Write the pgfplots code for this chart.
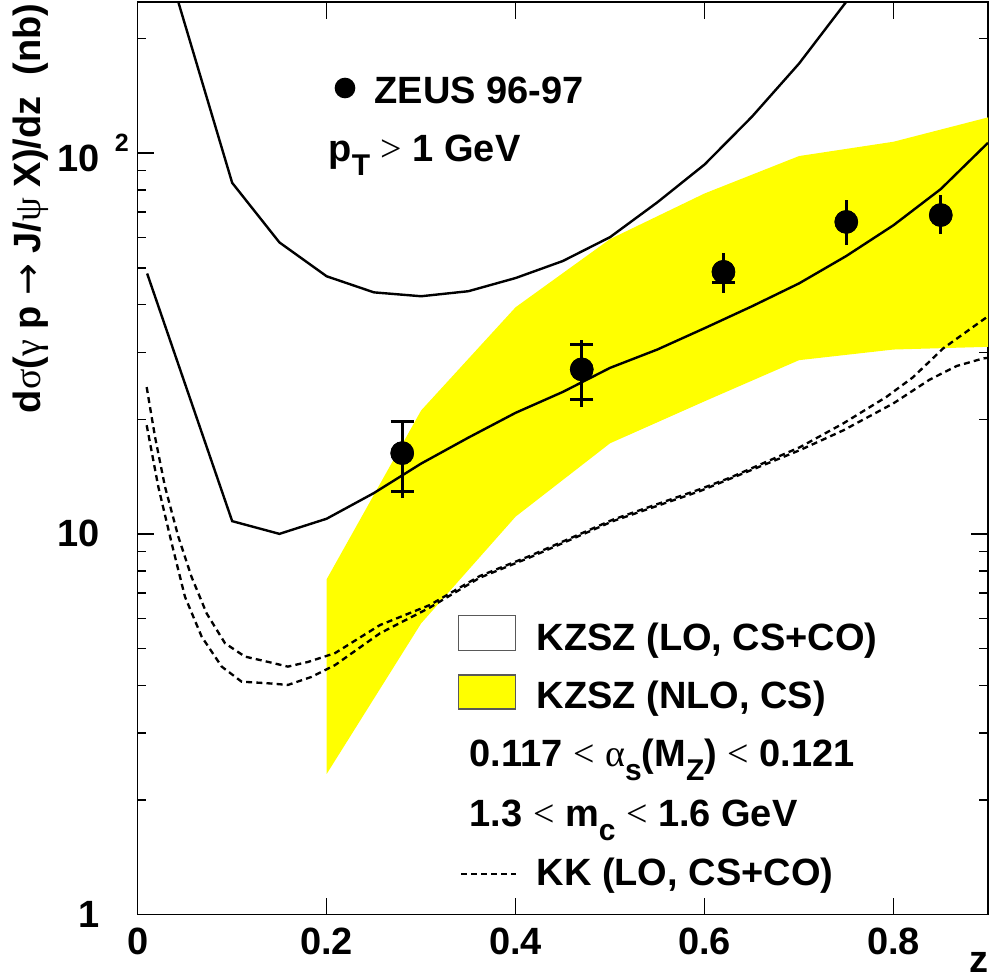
\documentclass[border=0pt]{standalone}
\usepackage{fontspec}
\setmainfont{Liberation Sans}
\newfontfamily\symf{Liberation Serif}
\newfontfamily\arrf{DejaVu Sans}
\usepackage{pgfplots}
\pgfplotsset{compat=1.18}
\definecolor{band}{RGB}{255,255,0}
\newcommand\F{\fontsize{11.4}{13.7}\selectfont\bfseries}
\newcommand\sy[1]{{\symf\mdseries #1}}
\newcommand\sub[1]{\raisebox{-4.2pt}{\fontsize{9}{10}\selectfont\bfseries #1}}
\pgfplotstableread{
x y sp sm tp tm
0.28 16.3 3.4 3.4 3.4 3.9
0.47 27.05 4.45 4.45 5.25 5.45
0.62 48.8 0 3.0 5.9 5.8
0.75 66.0 0 0 9.3 8.6
0.85 68.8 0 0 8.8 7.6
}\zeus
\begin{document}
\begin{tikzpicture}
\begin{axis}[at={(0,0)}, anchor=south west, scale only axis,
  width=255.09pt, height=273.75pt,
  xmin=0, xmax=0.9, ymin=1, ymax=249.6, ymode=log,
  axis line style={line width=0.45pt},
  tick style={black, line width=0.45pt},
  tick align=inside, major tick length=5pt, minor tick length=2.6pt,
  xtick={0,0.2,0.4,0.6,0.8}, xticklabels={0,0.2,0.4,0.6,0.8}, minor xtick={},
  ytick={1,10,100},
  yticklabels={1,10,10\rlap{\hspace{4.5pt}\raisebox{6pt}{\fontsize{7.5}{8}\selectfont\bfseries 2}}},
  minor ytick={2,3,4,5,6,7,8,9,20,30,40,50,60,70,80,90,200},
  ticklabel style={font=\F},
  yticklabel style={xshift=-7.8pt},
  xticklabel style={yshift=-0.5pt},
  every error bar/.append style={line width=0.85pt},
]
% NLO CS band
\addplot[fill=band, draw=none] coordinates {
 (0.2,7.6) (0.3,21.1) (0.4,39.4) (0.5,59.5) (0.6,78.4) (0.7,98.3) (0.8,107.2) (0.9,124.2)
 (0.9,31.0) (0.8,30.5) (0.7,28.6) (0.6,22.3) (0.5,17.3) (0.4,11.1) (0.3,5.82) (0.2,2.34)
} -- cycle;
% LO CS+CO upper
\addplot[black, line width=0.72pt] coordinates {
 (0.01,470) (0.1,83.6) (0.15,58.3) (0.2,47.5) (0.25,43.1) (0.3,42.1) (0.35,43.4)
 (0.4,47.0) (0.45,52.1) (0.5,60.2) (0.55,74.3) (0.6,93.4) (0.65,124.6) (0.7,172) (0.75,250)
};
% LO CS+CO lower
\addplot[black, line width=0.72pt] coordinates {
 (0.01,48.3) (0.1,10.8) (0.15,10.0) (0.2,10.96) (0.25,12.8) (0.3,15.3) (0.35,17.9)
 (0.4,20.8) (0.45,23.6) (0.5,27.3) (0.55,30.5) (0.6,34.7) (0.65,39.6) (0.7,45.5)
 (0.75,53.7) (0.8,64.7) (0.85,80.5) (0.9,106.5)
};
% KK dashed
\addplot[black, line width=0.7pt, dash pattern=on 1.8pt off 1.25pt] coordinates {
 (0.0095,24.3) (0.0183,18.0) (0.0289,13.3) (0.043,9.83) (0.057,7.71) (0.073,6.18)
 (0.0924,5.16) (0.1135,4.76) (0.138,4.61) (0.159,4.48) (0.1805,4.61) (0.2088,4.86)
 (0.2564,5.76) (0.309,6.5) (0.362,7.75) (0.415,8.75) (0.503,10.9) (0.595,13.1)
 (0.627,14.05) (0.701,16.9) (0.7467,19.5) (0.7925,22.9) (0.8207,25.8) (0.8525,30.7)
 (0.9,37.3)
};
\addplot[black, line width=0.7pt, dash pattern=on 1.8pt off 1.25pt] coordinates {
 (0.0095,19.3) (0.0218,13.3) (0.036,9.44) (0.050,6.84) (0.0677,5.37) (0.0889,4.48)
 (0.11,4.09) (0.138,4.05) (0.159,4.01) (0.184,4.21) (0.2088,4.52) (0.2564,5.48)
 (0.309,6.4) (0.362,7.67) (0.415,8.67) (0.503,10.8) (0.595,12.95) (0.701,16.6)
 (0.7467,18.7) (0.7996,22.0) (0.838,25.4) (0.8667,27.6) (0.8948,28.9) (0.9,29.0)
};
% ZEUS data: statistical caps
\addplot[only marks, mark=*, mark size=3.1pt, black, line width=0.85pt,
  error bars/.cd, y dir=both, y explicit, error mark=|,
  error bar style={line width=0.85pt, black},
  error mark options={mark size=3.5pt, line width=0.85pt, black}]
 table[x=x, y=y, y error plus=sp, y error minus=sm] {\zeus};
% ZEUS data: total errors and markers
\addplot[only marks, mark=*, mark size=3.1pt, black, line width=0.85pt,
  error bars/.cd, y dir=both, y explicit, error mark=none,
  error bar style={line width=0.85pt, black}]
 table[x=x, y=y, y error plus=tp, y error minus=tm] {\zeus};
\end{axis}
\begin{scope}[x=0.3pt, y=-0.3pt, shift={(-137.7,-914.5)}]
 % y label
 \node[rotate=90, anchor=base east, inner sep=0] at (41,3)
   {\F d\sy{σ}(\sy{γ} p {\arrf\mdseries →} J/\sy{ψ} X)/dz\ \ (nb)};
 % x label
 \node[anchor=base east, inner sep=0] at (989,972) {\F z};
 % ZEUS legend
 \fill[black] (345,88) circle[radius=3.1pt];
 \node[anchor=base west, inner sep=0] at (374,103.3) {\F ZEUS 96-97};
 \node[anchor=base west, inner sep=0] at (328,161) {\F p\sub{T} \sy{>} 1 GeV};
 % theory legend
 \draw[gray!70!black, line width=0.35pt, fill=white] (458.5,615.7) rectangle (515.8,650.7);
 \node[anchor=base west, inner sep=0] at (536,650) {\F KZSZ (LO, CS+CO)};
 \draw[gray!70!black, line width=0.35pt, fill=band] (458.5,675) rectangle (515.8,709);
 \node[anchor=base west, inner sep=0] at (536,708.3) {\F KZSZ (NLO, CS)};
 \node[anchor=base west, inner sep=0] at (469,766.7)
   {\F 0.117 \sy{<} \sy{α}\sub{s}(M\sub{Z}) \sy{<} 0.121};
 \node[anchor=base west, inner sep=0] at (469,826.7)
   {\F 1.3 \sy{<} m\sub{c} \sy{<} 1.6 GeV};
 \draw[black, line width=0.55pt, dash pattern=on 1.7pt off 1.3pt] (461,874.3) -- (516,874.3);
 \node[anchor=base west, inner sep=0] at (536,885) {\F KK (LO, CS+CO)};
 \pgfresetboundingbox
 \path[use as bounding box] (0,0) rectangle (991,979);
\end{scope}
\end{tikzpicture}
\end{document}
